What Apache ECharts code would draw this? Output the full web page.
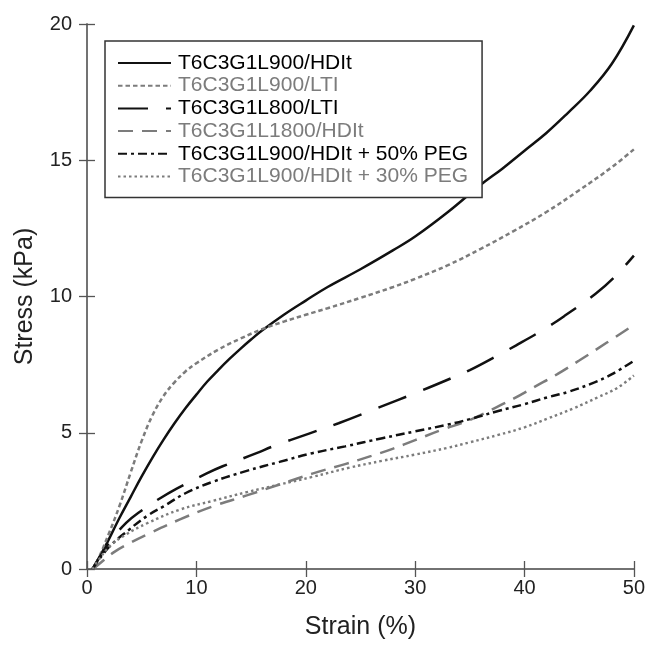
<!DOCTYPE html>
<html>
<head>
<meta charset="utf-8">
<script src="https://cdn.jsdelivr.net/npm/echarts@6.0.0/dist/echarts.min.js"></script>
<style>
  html, body { margin: 0; padding: 0; background: #fff; }
  #root { width: 648px; height: 645px; }
</style>
</head>
<body>
<div id="root"></div>
<script>
// series names, in legend order
const names = [
  "T6C3G1L900/HDIt",
  "T6C3G1L900/LTI",
  "T6C3G1L800/LTI",
  "T6C3G1L1800/HDIt",
  "T6C3G1L900/HDIt + 50% PEG",
  "T6C3G1L900/HDIt + 30% PEG"
];

// strain (%) / stress (kPa)
const hdit900 = [[0.5,0],[1.5,0.7],[3,1.9],[4,2.65],[5,3.4],[6,4.1],[7,4.75],[8,5.35],[9,5.9],[10,6.4],[11,6.88],[12,7.3],[13,7.7],[14,8.07],[15,8.42],[16,8.75],[18,9.33],[20,9.85],[22,10.35],[25,11.0],[28,11.7],[30,12.2],[33,13.1],[36,14.1],[38,14.7],[40,15.35],[42,16.0],[44,16.75],[46,17.55],[48,18.55],[50,19.95]];
const lti900 = [[0.5,0],[1,0.35],[2,1.3],[3,2.35],[4,3.55],[5,4.7],[6,5.65],[7,6.35],[8,6.85],[9,7.25],[10,7.55],[12,8.05],[14,8.45],[16,8.8],[18,9.08],[20,9.33],[22,9.57],[25,9.95],[28,10.35],[30,10.65],[33,11.15],[36,11.75],[39,12.4],[42,13.1],[45,13.9],[48,14.75],[50,15.4]];
const lti800 = [[0.5,0],[2,0.95],[3.6,1.7],[5,2.15],[6.5,2.55],[8.2,2.95],[10.9,3.5],[12.4,3.77],[15.5,4.25],[17,4.5],[20.3,4.97],[23,5.35],[26.5,5.9],[30.3,6.5],[33.3,7.0],[35,7.3],[37.6,7.85],[39.2,8.2],[42,8.85],[43.7,9.3],[46.5,10.1],[48.2,10.7],[50,11.5]];
const hdit1800 = [[0.5,0],[1,0.15],[2.4,0.6],[4,0.97],[5.5,1.27],[8.5,1.82],[11.5,2.3],[14.6,2.7],[17.6,3.1],[20.6,3.5],[23.6,3.85],[26,4.15],[28,4.42],[30,4.73],[32.4,5.1],[35,5.47],[37,5.85],[39,6.25],[41,6.7],[43,7.15],[45,7.65],[47.5,8.3],[50,8.96]];
const peg50 = [[0.5,0],[2,0.8],[3.9,1.46],[5.5,1.95],[7,2.3],[9,2.78],[11.5,3.2],[14.6,3.6],[17.6,3.93],[20.6,4.25],[23.6,4.5],[27,4.8],[30,5.05],[33,5.3],[35,5.5],[37.6,5.8],[40,6.05],[42.1,6.3],[44,6.5],[46.4,6.85],[48,7.15],[50,7.64]];
const peg30 = [[0.5,0],[1,0.3],[2.1,0.84],[3.5,1.25],[5.5,1.68],[8.5,2.18],[11.5,2.5],[14.6,2.82],[17.6,3.1],[20.6,3.38],[24,3.72],[27,3.97],[30,4.2],[33,4.45],[35,4.65],[37.6,4.92],[40,5.2],[42.1,5.52],[44.5,5.9],[46.7,6.3],[48.5,6.65],[50,7.1]];

const BLACK = "#111";
const GREY = "#7c7c7c";

const styles = [
  { color: BLACK, type: "solid", width: 2.5 },
  { color: GREY, type: [4.5, 3], width: 2.5 },
  { color: BLACK, type: [30, 18], width: 2.5 },
  { color: GREY, type: [15, 9], width: 2.5 },
  { color: BLACK, type: [9, 4, 3, 4], width: 2.5 },
  { color: GREY, type: [2.5, 3], width: 2.4 }
];
const datasets = [hdit900, lti900, lti800, hdit1800, peg50, peg30];

const chart = echarts.init(document.getElementById("root"), null, { renderer: "canvas" });

const axisLine = { show: true, lineStyle: { color: "#6a6a6a", width: 1.5 } };
const axisTick = { show: true, inside: true, length: 8, lineStyle: { color: "#555", width: 1.3 } };
const font = "Liberation Sans, Arial, sans-serif";

const option = {
  animation: false,
  backgroundColor: "#fff",
  grid: { left: 87, right: 11, top: 24, bottom: 72 },
  legend: {
    orient: "vertical",
    left: 105,
    top: 41,
    padding: [11, 14, 10, 12],
    itemWidth: 53,
    itemHeight: 14,
    itemGap: 0.7,
    borderColor: "#333",
    borderWidth: 1.5,
    backgroundColor: "#fff",
    // hide the marker dot, keep the dashed line sample
    itemStyle: { opacity: 0, color: "rgba(0,0,0,0)", borderWidth: 0 },
    textStyle: { fontFamily: font, fontSize: 21, lineHeight: 22, padding: [0, 0, 0, 2] },
    data: names.map((n, i) => ({
      name: n,
      textStyle: { color: styles[i].color === BLACK ? "#000" : GREY }
    }))
  },
  xAxis: [
    {
      type: "value", min: 0, max: 50, interval: 10,
      name: "Strain (%)", nameLocation: "middle", nameGap: 46,
      nameTextStyle: { fontFamily: font, fontSize: 25, color: "#222" },
      axisLine, axisTick, splitLine: { show: false },
      axisLabel: { fontFamily: font, fontSize: 20, color: "#222", margin: 9 }
    },
    {
      type: "value", min: 0, max: 50, interval: 10, position: "top",
      axisLine, axisTick, splitLine: { show: false }, axisLabel: { show: false }
    }
  ],
  yAxis: [
    {
      type: "value", min: 0, max: 20, interval: 5,
      name: "Stress (kPa)", nameLocation: "middle", nameGap: 49,
      nameTextStyle: { fontFamily: font, fontSize: 25, color: "#222" },
      axisLine, axisTick, splitLine: { show: false },
      axisLabel: { fontFamily: font, fontSize: 20, color: "#222", margin: 15 }
    },
    {
      type: "value", min: 0, max: 20, interval: 5, position: "right",
      axisLine, axisTick, splitLine: { show: false }, axisLabel: { show: false }
    }
  ],
  series: names.map((n, i) => ({
    name: n,
    type: "line",
    data: datasets[i],
    smooth: 0.4,
    symbol: "none",
    lineStyle: styles[i],
    itemStyle: { color: styles[i].color },
    z: 2
  }))
};

chart.setOption(option);
</script>
</body>
</html>
